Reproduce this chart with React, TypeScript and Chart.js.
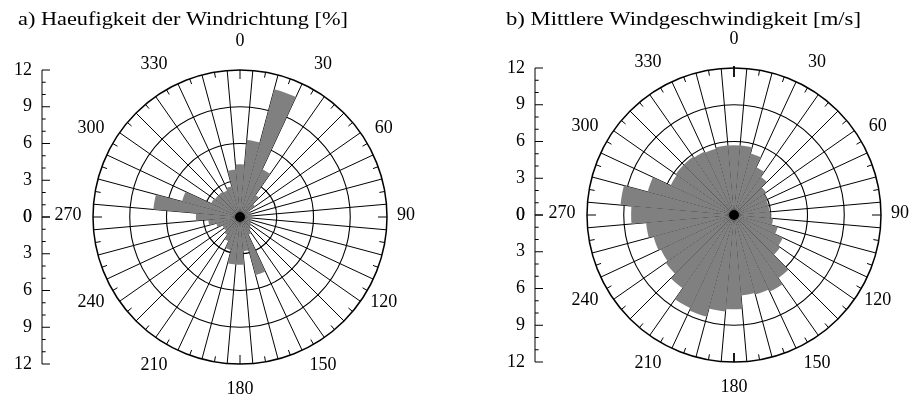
import React, { useEffect, useRef } from "react";
import { Chart, registerables } from "chart.js";

Chart.register(...registerables);

// ---- data -------------------------------------------------------------
const DIRECTIONS = [
  0, 10, 20, 30, 40, 50, 60, 70, 80, 90, 100, 110, 120, 130, 140, 150, 160, 170,
  180, 190, 200, 210, 220, 230, 240, 250, 260, 270, 280, 290, 300, 310, 320, 330, 340, 350,
];

// a) Haeufigkeit der Windrichtung [%]
const FREQUENCY = [
  4.3, 6.3, 10.8, 4.3, 2.2, 1.5, 0.9, 0.9, 0.9, 0.9, 0.9, 0.9, 1.0, 1.1, 1.3, 1.6, 4.9, 2.8,
  3.9, 3.9, 2.8, 2.2, 1.8, 1.6, 1.6, 2.0, 2.6, 3.6, 7.1, 4.9, 2.6, 2.5, 2.5, 2.4, 2.6, 3.9,
];

// b) Mittlere Windgeschwindigkeit [m/s]
const SPEED = [
  5.7, 5.7, 5.2, 4.3, 3.8, 3.2, 3.0, 2.9, 2.9, 3.0, 3.2, 3.7, 4.4, 4.6, 6.3, 6.9, 6.7, 6.6,
  7.7, 7.9, 8.6, 8.4, 7.3, 6.8, 6.6, 6.8, 7.2, 8.4, 9.3, 7.3, 5.7, 5.8, 5.8, 5.7, 5.6, 5.7,
];

const RADIAL_MAX = 12;
const RADIAL_STEP = 3;
const AXIS_MINOR_STEP = 1;
const ANGLE_LABELS = [0, 30, 60, 90, 120, 150, 180, 210, 240, 270, 300, 330];
const TITLE_A = "a) Haeufigkeit der Windrichtung [%]";
const TITLE_B = "b) Mittlere Windgeschwindigkeit [m/s]";

// ---- drawing helpers --------------------------------------------------
const FONT = '"Liberation Serif", "DejaVu Serif", serif';
const SECTOR = 360 / DIRECTIONS.length;

type DecorOpts = {
  title: string;
  titleX: number;
  titleWidth: number;
  axisX: number;
  strongNorth: boolean;
};

const decorPlugin = {
  id: "windRoseDecor",
  afterDraw(chart: any, _args: any, opts: DecorOpts) {
    const ctx: CanvasRenderingContext2D = chart.ctx;
    const scale = chart.scales.r;
    const cx = scale.xCenter;
    const cy = scale.yCenter;
    const R = scale.getDistanceFromCenterForValue(RADIAL_MAX);
    ctx.save();
    ctx.strokeStyle = "#000";
    ctx.fillStyle = "#000";

    // tick marks at sector centres on the outer circle
    DIRECTIONS.forEach((d) => {
      const a = (d * Math.PI) / 180;
      const cardinal = d % 90 === 0;
      let r0 = R;
      const r1 = R - (cardinal ? 9 : 5.5);
      ctx.lineWidth = 1;
      if (opts.strongNorth && (d === 0 || d === 180)) {
        r0 = R + (d === 0 ? 2 : 0);
        ctx.lineWidth = 1.8;
      }
      ctx.beginPath();
      ctx.moveTo(cx + r0 * Math.sin(a), cy - r0 * Math.cos(a));
      ctx.lineTo(cx + r1 * Math.sin(a), cy - r1 * Math.cos(a));
      ctx.stroke();
    });

    // centre dot
    ctx.beginPath();
    ctx.arc(cx, cy, 5, 0, Math.PI * 2);
    ctx.fill();

    // angle labels
    ctx.font = `18px ${FONT}`;
    ctx.textAlign = "center";
    ctx.textBaseline = "middle";
    ANGLE_LABELS.forEach((d) => {
      const a = (d * Math.PI) / 180;
      const s = Math.sin(a);
      const c = Math.cos(a);
      const rx = s < -0.01 ? 172 : 166;
      const x = cx + rx * s;
      const y = cy - 174 * c - 2;
      ctx.fillText(String(d), x, y);
    });

    // vertical radius axis on the left
    const ax = opts.axisX;
    ctx.lineWidth = 1;
    ctx.beginPath();
    ctx.moveTo(ax, cy - R);
    ctx.lineTo(ax, cy + R);
    ctx.stroke();
    ctx.textAlign = "right";
    for (let v = 0; v <= RADIAL_MAX; v += AXIS_MINOR_STEP) {
      const dist = scale.getDistanceFromCenterForValue(v);
      const major = v % RADIAL_STEP === 0;
      const len = major ? 8 : 3.7;
      [cy - dist, cy + dist].forEach((y) => {
        ctx.beginPath();
        ctx.moveTo(ax, y);
        ctx.lineTo(ax + len, y);
        ctx.stroke();
        if (major) ctx.fillText(String(v), ax - 10, y);
      });
    }

    // title (stretched to the width of the original serif face)
    ctx.textAlign = "left";
    ctx.textBaseline = "alphabetic";
    ctx.font = `19px ${FONT}`;
    const w = ctx.measureText(opts.title).width;
    ctx.translate(opts.titleX, 25);
    ctx.scale(opts.titleWidth / w, 1);
    ctx.fillText(opts.title, 0, 0);
    ctx.restore();
  },
};

type RoseProps = {
  values: number[];
  title: string;
  left: number;
  pad: { left: number; right: number; top: number; bottom: number };
  axisX: number;
  titleX: number;
  titleWidth: number;
  strongNorth: boolean;
};

function WindRose(props: RoseProps) {
  const ref = useRef<HTMLCanvasElement | null>(null);
  useEffect(() => {
    if (!ref.current) return;
    const chart = new Chart(ref.current, {
      type: "polarArea",
      data: {
        labels: DIRECTIONS.map(String),
        datasets: [
          {
            data: props.values,
            backgroundColor: "#808080",
            borderWidth: 0,
          },
        ],
      },
      options: {
        responsive: false,
        animation: false,
        devicePixelRatio: 1,
        startAngle: -SECTOR / 2,
        layout: { padding: props.pad },
        plugins: {
          legend: { display: false },
          tooltip: { enabled: false },
          title: { display: false },
          windRoseDecor: {
            title: props.title,
            titleX: props.titleX,
            titleWidth: props.titleWidth,
            axisX: props.axisX,
            strongNorth: props.strongNorth,
          },
        } as any,
        scales: {
          r: {
            min: 0,
            max: RADIAL_MAX,
            startAngle: -SECTOR / 2,
            ticks: { stepSize: RADIAL_STEP, display: false, z: 1 },
            grid: {
              circular: true,
              color: "#000",
              lineWidth: (c: any) => (c.tick && c.tick.value === RADIAL_MAX ? 1.5 : 1.1),
            },
            angleLines: { display: true, color: "#000", lineWidth: 1 },
            pointLabels: { display: false },
          },
        } as any,
      } as any,
      plugins: [decorPlugin as any],
    });
    return () => chart.destroy();
  }, []);
  return (
    <canvas
      ref={ref}
      width={456}
      height={396}
      style={{ position: "absolute", left: props.left, top: 0, width: 456, height: 396 }}
    />
  );
}

export default function App() {
  return (
    <div
      style={{
        position: "fixed",
        left: 0,
        top: 0,
        width: 912,
        height: 396,
        background: "#fff",
        overflow: "hidden",
      }}
    >
      <WindRose
        values={FREQUENCY}
        title={TITLE_A}
        left={0}
        pad={{ left: 93, right: 69, top: 70, bottom: 32 }}
        axisX={42}
        titleX={18}
        titleWidth={330}
        strongNorth={false}
      />
      <WindRose
        values={SPEED}
        title={TITLE_B}
        left={456}
        pad={{ left: 131, right: 31, top: 68, bottom: 34 }}
        axisX={79}
        titleX={50}
        titleWidth={355}
        strongNorth={true}
      />
    </div>
  );
}
